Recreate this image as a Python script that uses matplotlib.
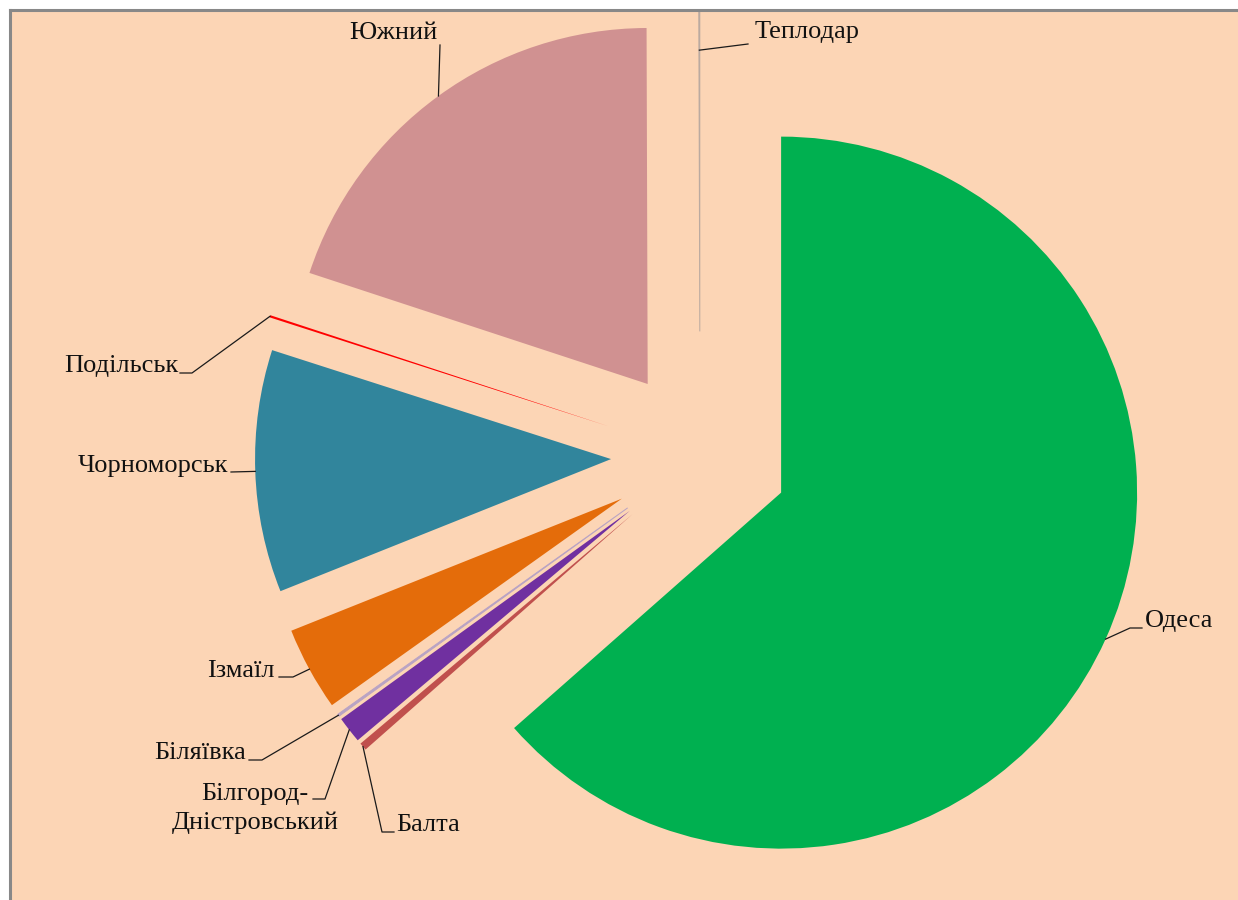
import numpy as np
import matplotlib.pyplot as plt

plt.rcParams['font.family'] = ['Liberation Serif', 'DejaVu Serif']

# Data (shares, %)
cities = ["Одеса", "Балта", "Білгород-Дністровський", "Біляївка", "Ізмаїл",
          "Чорноморськ", "Подільськ", "Южний", "Теплодар"]
shares = [63.5, 0.35, 1.2, 0.1, 3.8, 11.0, 0.1, 19.9, 0.05]

colors = ["#00B050", "#C0504D", "#7030A0", "#B9A3C4", "#E46C0A",
          "#31859C", "#FF0000", "#D09191", "#BBAAA0"]
explode = [0.25, 0.25, 0.25, 0.25, 0.25, 0.25, 0.27, 0.25, 0.35]

W, H = 1238, 900
cx, cy, R = 700, 456, 356   # pie centre / radius in pixels


def px(x, y):
    return ((x - cx) / R, (cy - y) / R)


fig = plt.figure(figsize=(W / 100, H / 100), dpi=100, facecolor="white")
ax = fig.add_axes([10 / W, 0, (W - 10) / W, (H - 10) / H])
ax.set_facecolor("#FCD5B5")

wedges, _ = ax.pie(shares, colors=colors, explode=explode, startangle=90,
                   counterclock=False, radius=1, frame=True,
                   wedgeprops=dict(linewidth=0))

for w, name in zip(wedges, cities):
    w.set_clip_on(True)
    w.set_clip_path(ax.patch)
    # the two tiniest slices get an outline so they show as thin lines
    if name in ("Біляївка", "Теплодар"):
        w.set_edgecolor(w.get_facecolor())
        w.set_linewidth(0.7)

ax.set_xlim((10 - cx) / R, (W - cx) / R)
ax.set_ylim((cy - H) / R, (cy - 10) / R)
ax.set_xticks([])
ax.set_yticks([])
for side in ["right", "bottom"]:
    ax.spines[side].set_visible(False)
for side in ["top", "left"]:
    ax.spines[side].set_color("#888888")
    ax.spines[side].set_linewidth(2.2)
    ax.spines[side].set_zorder(10)

# label layout: text pieces (x, baseline y, ha) and leader elbow points, in pixels
layout = {
    "Одеса": ([("Одеса", 1145, 627, "left")], [(1130, 628), (1142, 628)], 1.0),
    "Балта": ([("Балта", 396, 831, "left")], [(382, 832), (394, 832)], 1.0),
    "Білгород-Дністровський": ([("Білгород-", 255, 800, "center"),
                                ("Дністровський", 255, 829, "center")],
                               [(325, 799), (313, 799)], 1.0),
    "Біляївка": ([("Біляївка", 246, 759, "right")], [(262, 760), (249, 760)], 1.0),
    "Ізмаїл": ([("Ізмаїл", 275, 677, "right")], [(293, 677), (279, 677)], 1.0),
    "Чорноморськ": ([("Чорноморськ", 228, 472, "right")], [(231, 472)], 1.0),
    "Подільськ": ([("Подільськ", 178, 372, "right")], [(192, 373), (180, 373)], 1.0),
    "Южний": ([("Южний", 393, 39, "center")], [(440, 45)], 1.0),
    "Теплодар": ([("Теплодар", 755, 38, "left")], [(748, 44)], 0.79),
}

for w, name in zip(wedges, cities):
    texts, elbows, r = layout[name]
    mid = np.deg2rad((w.theta1 + w.theta2) / 2)
    x0 = w.center[0] + r * np.cos(mid)
    y0 = w.center[1] + r * np.sin(mid)
    pts = [(x0, y0)] + [px(*e) for e in elbows]
    ax.plot([p[0] for p in pts], [p[1] for p in pts], color="#1a1a1a",
            lw=0.9, zorder=5)
    for t, tx, ty, ha in texts:
        x, y = px(tx, ty)
        ax.text(x, y, t, ha=ha, va="baseline", fontsize=19, color="#111111")

fig.savefig("out.png", dpi=100, facecolor=fig.get_facecolor())
